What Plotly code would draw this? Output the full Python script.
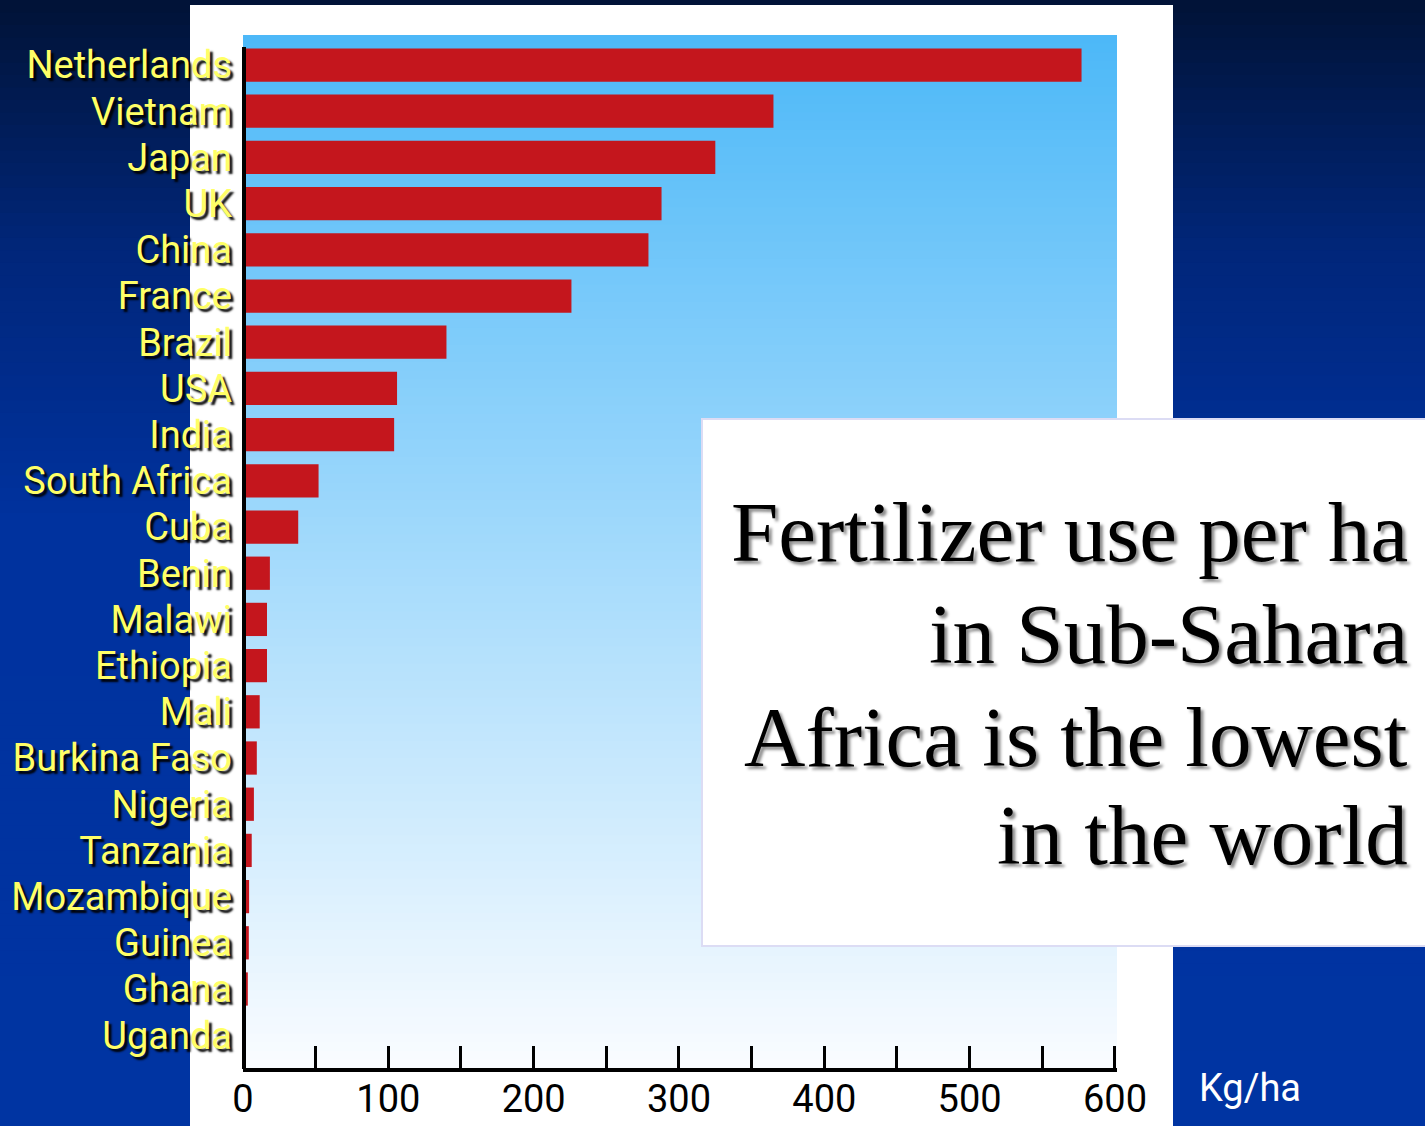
import plotly.graph_objects as go

countries = ["Netherlands", "Vietnam", "Japan", "UK", "China", "France", "Brazil", "USA",
             "India", "South Africa", "Cuba", "Benin", "Malawi", "Ethiopia", "Mali",
             "Burkina Faso", "Nigeria", "Tanzania", "Mozambique", "Guinea", "Ghana", "Uganda"]
kg_per_ha = [577, 365, 325, 288, 279, 226, 140, 106, 104, 52, 38, 18.5, 16.5, 16.5, 11.5,
             9.5, 7.5, 6, 4.2, 4, 3.3, 2]
x_tick_vals = [0, 50, 100, 150, 200, 250, 300, 350, 400, 450, 500, 550, 600]
x_tick_text = ["0", "", "100", "", "200", "", "300", "", "400", "", "500", "", "600"]
message_lines = ["Fertilizer use per ha", "in Sub-Sahara", "Africa is the lowest", "in the world"]
unit_label = "Kg/ha"

W, H = 1425, 1126
L, R, T, B = 243, 1117, 35, 1068


def px2x(px):
    return (px - L) / (R - L)


def py2y(py):
    return (B - py) / (B - T)


def lerp(c1, c2, t):
    return tuple(int(round(a + (b - a) * t)) for a, b in zip(c1, c2))


def rgb(c):
    return "rgb(%d,%d,%d)" % c


shapes = []

# page background gradient (dark navy -> blue)
stops = [(0, (1, 18, 54)), (250, (1, 38, 122)), (520, (0, 50, 158)), (1126, (0, 52, 162))]
n = 90
for i in range(n):
    y0 = H * i / n
    y1 = H * (i + 1) / n + 0.8
    ym = (y0 + y1) / 2
    for (a, ca), (b, cb) in zip(stops[:-1], stops[1:]):
        if a <= ym <= b:
            col = lerp(ca, cb, (ym - a) / (b - a))
            break
    shapes.append(dict(type="rect", xref="paper", yref="paper", layer="below",
                       x0=px2x(-2), x1=px2x(W + 2), y0=py2y(y1), y1=py2y(y0),
                       fillcolor=rgb(col), line=dict(width=0)))

# white panel
shapes.append(dict(type="rect", xref="paper", yref="paper", layer="below",
                   x0=px2x(190), x1=px2x(1173), y0=py2y(H + 2), y1=py2y(5),
                   fillcolor="white", line=dict(width=0)))

# plot area gradient (sky blue -> near white)
top_c, bot_c = (76, 184, 248), (250, 252, 255)
n2 = 120
for i in range(n2):
    y0 = T + (B - T) * i / n2
    y1 = T + (B - T) * (i + 1) / n2 + 0.8
    col = lerp(top_c, bot_c, (i + 0.5) / n2)
    shapes.append(dict(type="rect", xref="paper", yref="paper", layer="below",
                       x0=0, x1=1, y0=py2y(min(y1, B)), y1=py2y(y0),
                       fillcolor=rgb(col), line=dict(width=0)))

# vertical axis line (starts at the first bar, as in the original)
shapes.append(dict(type="line", xref="paper", yref="paper", layer="above",
                   x0=px2x(244), x1=px2x(244), y0=py2y(1069), y1=py2y(47),
                   line=dict(width=4, color="black")))

# message box
shapes.append(dict(type="rect", xref="paper", yref="paper", layer="above",
                   x0=px2x(702), x1=px2x(1427), y0=py2y(946), y1=py2y(419),
                   fillcolor="white", line=dict(width=2, color="#DCDCF4")))

narrow = "Liberation Sans Narrow, Arial Narrow, Roboto, sans-serif"

fig = go.Figure(go.Bar(
    x=kg_per_ha, y=countries, orientation="h",
    marker=dict(color="#C4161D", line=dict(width=0)),
    hoverinfo="x+y",
))

annotations = []
line_centers = [532, 634, 737, 835]
for txt, yc in zip(message_lines, line_centers):
    annotations.append(dict(
        text=txt, xref="paper", yref="paper", x=px2x(1410), y=py2y(yc),
        xanchor="right", yanchor="middle", showarrow=False,
        font=dict(family="Liberation Serif, Times New Roman, serif", size=85, color="black",
                  shadow="3px 3px 3px rgba(0,0,0,0.45)")))
annotations.append(dict(
    text=unit_label, xref="paper", yref="paper", x=px2x(1197), y=py2y(1088),
    xanchor="left", yanchor="middle", showarrow=False,
    font=dict(family=narrow, size=38, color="white")))

fig.update_layout(
    width=W, height=H,
    margin=dict(l=L, r=W - R, t=T, b=H - B, pad=0),
    paper_bgcolor="rgb(0,40,130)",
    plot_bgcolor="rgba(0,0,0,0)",
    showlegend=False,
    bargap=0.28,
    shapes=shapes,
    annotations=annotations,
    xaxis=dict(range=[0, 601.4], showgrid=False, zeroline=False, automargin=False,
               showline=True, linecolor="black", linewidth=4,
               ticks="inside", ticklen=22, tickwidth=3, tickcolor="black",
               tickmode="array", tickvals=x_tick_vals, ticktext=x_tick_text,
               ticklabelstandoff=-6,
               tickfont=dict(family=narrow, size=38, color="black")),
    yaxis=dict(type="category", range=[21.71, -0.65], showgrid=False, zeroline=False,
               automargin=False, tickmode="array", tickvals=countries,
               showline=False, ticks="",
               ticklabelstandoff=10,
               tickfont=dict(family=narrow, size=38, color="#FFFF66",
                             shadow="3px 3px 2px rgba(0,0,0,0.95)")),
)

fig.write_html("out.html", config={"displayModeBar": False},
               post_script="document.body.style.margin='0';")
